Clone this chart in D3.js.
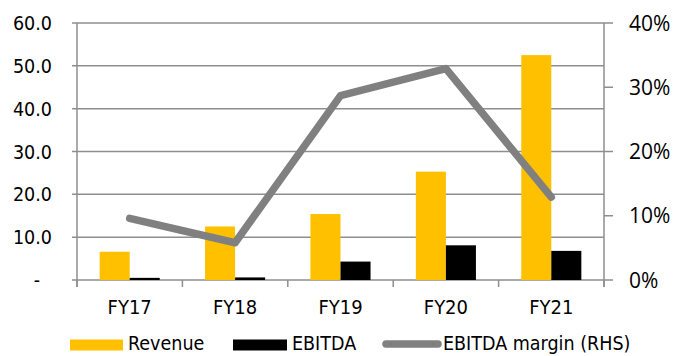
<!DOCTYPE html>
<html>
<head>
<meta charset="utf-8">
<script src="https://cdn.jsdelivr.net/npm/d3@7"></script>
<style>
  html, body { margin: 0; padding: 0; background: #fff; }
  svg { display: block; }
</style>
</head>
<body>
<svg id="chart" width="678" height="356"></svg>
<script>
// Fiscal years and series
const categories = ["FY17", "FY18", "FY19", "FY20", "FY21"];
const revenue = [6.6, 12.5, 15.4, 25.3, 52.5];
const ebitda = [0.5, 0.6, 4.3, 8.1, 6.8];
const margin = [0.096, 0.058, 0.287, 0.329, 0.129];
const leftTicks = [0, 10, 20, 30, 40, 50, 60];
const rightTicks = [0, 0.1, 0.2, 0.3, 0.4];
const seriesNames = ["Revenue", "EBITDA", "EBITDA margin (RHS)"];

const colors = { rev: "#FFC000", ebitda: "#000000", margin: "#808080", grid: "#8e8e8e" };
const tahoma = "'DejaVu Sans Condensed', 'DejaVu Sans', sans-serif";
const calibri = "'Open Sans', 'Liberation Sans', sans-serif";

const svg = d3.select("#chart");
const plot = { left: 77, right: 604, top: 23, bottom: 280 };

const x = d3.scaleBand()
  .domain(categories)
  .range([plot.left, plot.right])
  .paddingInner(0.43)
  .paddingOuter(0.215);
const xSub = d3.scaleBand().domain(["rev", "ebitda"]).range([0, x.bandwidth()]);
const yL = d3.scaleLinear().domain([0, 60]).range([plot.bottom, plot.top]);
const yR = d3.scaleLinear().domain([0, 0.4]).range([plot.bottom, plot.top]);

// Horizontal gridlines from the left axis
svg.append("g").selectAll("line").data(leftTicks).join("line")
  .attr("x1", plot.left - 5).attr("x2", plot.right)
  .attr("y1", d => yL(d)).attr("y2", d => yL(d))
  .attr("stroke", colors.grid).attr("stroke-width", 1.5);

// Left axis line
svg.append("line")
  .attr("x1", plot.left).attr("x2", plot.left)
  .attr("y1", plot.top).attr("y2", plot.bottom + 7)
  .attr("stroke", colors.grid).attr("stroke-width", 1.5);

// Right axis line and ticks
svg.append("line")
  .attr("x1", plot.right).attr("x2", plot.right)
  .attr("y1", plot.top).attr("y2", plot.bottom + 7)
  .attr("stroke", colors.grid).attr("stroke-width", 1.5);
svg.append("g").selectAll("line").data(rightTicks).join("line")
  .attr("x1", plot.right).attr("x2", plot.right + 9)
  .attr("y1", d => yR(d)).attr("y2", d => yR(d))
  .attr("stroke", colors.grid).attr("stroke-width", 1.5);

// Category tick marks on the baseline
const bounds = categories.map(c => x(c) - x.step() * x.paddingInner() / 2)
  .concat([plot.right]);
svg.append("g").selectAll("line").data(bounds).join("line")
  .attr("x1", d => d).attr("x2", d => d)
  .attr("y1", plot.bottom).attr("y2", plot.bottom + 7)
  .attr("stroke", colors.grid).attr("stroke-width", 1.5);

// Bars
const groups = svg.append("g").selectAll("g").data(categories).join("g")
  .attr("transform", d => `translate(${x(d)},0)`);
groups.append("rect")
  .attr("x", xSub("rev")).attr("width", xSub.bandwidth())
  .attr("y", (d, i) => yL(revenue[i]))
  .attr("height", (d, i) => yL(0) - yL(revenue[i]))
  .attr("fill", colors.rev);
groups.append("rect")
  .attr("x", xSub("ebitda")).attr("width", xSub.bandwidth())
  .attr("y", (d, i) => yL(ebitda[i]))
  .attr("height", (d, i) => yL(0) - yL(ebitda[i]))
  .attr("fill", colors.ebitda);

// Margin line on the right scale
const line = d3.line()
  .x((d, i) => x(categories[i]) + x.bandwidth() / 2)
  .y(d => yR(d));
svg.append("path").datum(margin)
  .attr("d", line)
  .attr("fill", "none")
  .attr("stroke", colors.margin)
  .attr("stroke-width", 7.5)
  .attr("stroke-linecap", "round")
  .attr("stroke-linejoin", "round");

// Left tick labels
svg.append("g").selectAll("text").data(leftTicks).join("text")
  .attr("x", d => d === 0 ? 40 : 52)
  .attr("y", d => yL(d))
  .attr("dy", "0.36em")
  .attr("text-anchor", "end")
  .attr("font-family", tahoma).attr("font-size", 19.5).attr("fill", "#000")
  .text(d => d === 0 ? "-" : d3.format(".1f")(d));

// Right tick labels
svg.append("g").selectAll("text").data(rightTicks).join("text")
  .attr("x", 629)
  .attr("y", d => yR(d))
  .attr("dy", "0.36em")
  .attr("text-anchor", "start")
  .attr("font-family", calibri).attr("font-size", 21).attr("fill", "#000")
  .text(d => d3.format(".0%")(d));

// Category labels
svg.append("g").selectAll("text").data(categories).join("text")
  .attr("x", d => x(d) + x.bandwidth() / 2)
  .attr("y", 307)
  .attr("dy", "0.36em")
  .attr("text-anchor", "middle")
  .attr("font-family", tahoma).attr("font-size", 20).attr("fill", "#000")
  .text(d => d);

// Legend
const legend = svg.append("g").attr("font-family", tahoma).attr("font-size", 19.5);
const ly = 344;
legend.append("rect").attr("x", 70).attr("y", ly - 4.5).attr("width", 53).attr("height", 11).attr("fill", colors.rev);
legend.append("text").attr("x", 128).attr("y", ly).attr("dy", "0.33em").text(seriesNames[0]);
legend.append("rect").attr("x", 233).attr("y", ly - 4.5).attr("width", 54).attr("height", 11).attr("fill", colors.ebitda);
legend.append("text").attr("x", 292).attr("y", ly).attr("dy", "0.33em").text(seriesNames[1]);
legend.append("line").attr("x1", 386).attr("x2", 438).attr("y1", ly).attr("y2", ly)
  .attr("stroke", colors.margin).attr("stroke-width", 7.5).attr("stroke-linecap", "round");
legend.append("text").attr("x", 443).attr("y", ly).attr("dy", "0.33em").text(seriesNames[2]);
</script>
</body>
</html>
